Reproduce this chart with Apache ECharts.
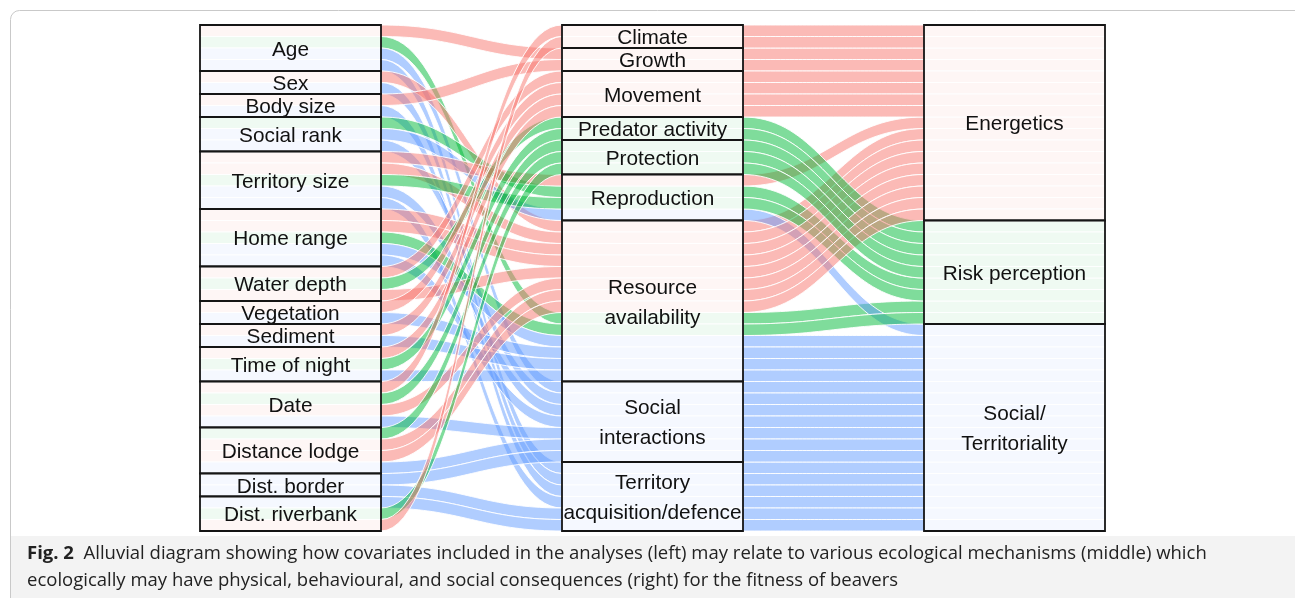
<!DOCTYPE html>
<html><head><meta charset="utf-8">
<script src="https://cdn.jsdelivr.net/npm/echarts@6/dist/echarts.min.js"></script>
<style>html,body{margin:0;padding:0;background:#fff}#c{width:1295px;height:598px}</style>
</head><body><div id="c"></div>
<script>
// ---- data ----
const covariates = ['Age','Sex','Body size','Social rank','Territory size','Home range','Water depth','Vegetation','Sediment','Time of night','Date','Distance lodge','Dist. border','Dist. riverbank'];
const mechanisms = ['Climate','Growth','Movement','Predator activity','Protection','Reproduction','Resource availability','Social interactions','Territory acquisition/defence'];
const consequences = ['Energetics','Risk perception','Social/Territoriality'];
const consequenceColors = ['#F8766D','#00BA38','#619CFF'];
const displayLabels = {
  'Resource availability':'Resource\navailability',
  'Social interactions':'Social\ninteractions',
  'Territory acquisition/defence':'Territory\nacquisition/defence',
  'Social/Territoriality':'Social/\nTerritoriality'
};
// one strand (alluvium) per row: covariate, mechanism, consequence (in stacking order of the left axis)
const strands = [
  ['Age','Growth','Energetics'],
  ['Age','Resource availability','Risk perception'],
  ['Age','Social interactions','Social/Territoriality'],
  ['Age','Territory acquisition/defence','Social/Territoriality'],
  ['Sex','Resource availability','Energetics'],
  ['Sex','Territory acquisition/defence','Social/Territoriality'],
  ['Body size','Growth','Energetics'],
  ['Body size','Territory acquisition/defence','Social/Territoriality'],
  ['Social rank','Reproduction','Risk perception'],
  ['Social rank','Reproduction','Social/Territoriality'],
  ['Social rank','Social interactions','Social/Territoriality'],
  ['Territory size','Reproduction','Energetics'],
  ['Territory size','Resource availability','Energetics'],
  ['Territory size','Reproduction','Risk perception'],
  ['Territory size','Social interactions','Social/Territoriality'],
  ['Territory size','Territory acquisition/defence','Social/Territoriality'],
  ['Home range','Resource availability','Energetics'],
  ['Home range','Resource availability','Energetics'],
  ['Home range','Resource availability','Risk perception'],
  ['Home range','Resource availability','Social/Territoriality'],
  ['Home range','Social interactions','Social/Territoriality'],
  ['Water depth','Movement','Energetics'],
  ['Water depth','Predator activity','Risk perception'],
  ['Water depth','Resource availability','Energetics'],
  ['Vegetation','Movement','Energetics'],
  ['Vegetation','Resource availability','Social/Territoriality'],
  ['Sediment','Movement','Energetics'],
  ['Sediment','Resource availability','Social/Territoriality'],
  ['Time of night','Movement','Energetics'],
  ['Time of night','Predator activity','Risk perception'],
  ['Time of night','Resource availability','Social/Territoriality'],
  ['Date','Climate','Energetics'],
  ['Date','Protection','Risk perception'],
  ['Date','Resource availability','Energetics'],
  ['Date','Social interactions','Social/Territoriality'],
  ['Distance lodge','Protection','Risk perception'],
  ['Distance lodge','Resource availability','Energetics'],
  ['Distance lodge','Resource availability','Energetics'],
  ['Distance lodge','Social interactions','Social/Territoriality'],
  ['Dist. border','Social interactions','Social/Territoriality'],
  ['Dist. border','Territory acquisition/defence','Social/Territoriality'],
  ['Dist. riverbank','Territory acquisition/defence','Social/Territoriality'],
  ['Dist. riverbank','Protection','Risk perception'],
  ['Dist. riverbank','Climate','Energetics']
];
const captionBold = 'Fig. 2';
const captionLine1 = 'Alluvial diagram showing how covariates included in the analyses (left) may relate to various ecological mechanisms (middle) which';
const captionLine2 = 'ecologically may have physical, behavioural, and social consequences (right) for the fitness of beavers';

// ---- stacking (in data units: one strand = 1) ----
const N = strands.length;
const ci = strands.map(s => covariates.indexOf(s[0]));
const mi = strands.map(s => mechanisms.indexOf(s[1]));
const qi = strands.map(s => consequences.indexOf(s[2]));
const idx = strands.map((s,i)=>i);
const leftPos = new Array(N), midPos = new Array(N), rightPos = new Array(N);
idx.slice().sort((a,b)=> ci[a]-ci[b] || a-b).forEach((k,j)=>{leftPos[k]=j;});
idx.slice().sort((a,b)=> mi[a]-mi[b] || qi[a]-qi[b] || leftPos[a]-leftPos[b]).forEach((k,j)=>{midPos[k]=j;});
idx.slice().sort((a,b)=> qi[a]-qi[b] || midPos[a]-midPos[b]).forEach((k,j)=>{rightPos[k]=j;});

function strata(names, keyIdx, pos, col){
  return names.map((n,i)=>{
    const members = idx.filter(k=>keyIdx[k]===i);
    const start = Math.min(...members.map(k=>pos[k]));
    return [col, start, members.length, displayLabels[n] || n];
  });
}
const strataData = [].concat(
  strata(covariates, ci, leftPos, 0),
  strata(mechanisms, mi, midPos, 1),
  strata(consequences, qi, rightPos, 2)
);

const K = 0.45;
function bez(p0,p1,p2,p3,n){
  const pts=[];
  for(let i=0;i<=n;i++){
    const t=i/n, u=1-t;
    pts.push([u*u*u*p0[0]+3*u*u*t*p1[0]+3*u*t*t*p2[0]+t*t*t*p3[0],
              u*u*u*p0[1]+3*u*u*t*p1[1]+3*u*t*t*p2[1]+t*t*t*p3[1]]);
  }
  return pts;
}
function edge(api, a, b, c, off){
  const ys=[a+off,b+off,c+off];
  const P = (x,y)=>api.coord([x,y]);
  let pts=[P(0,ys[0]), P(1,ys[0])];
  pts = pts.concat(bez(P(1,ys[0]),P(1+K,ys[0]),P(2-K,ys[1]),P(2,ys[1]),40).slice(1));
  pts.push(P(3,ys[1]));
  pts = pts.concat(bez(P(3,ys[1]),P(3+K,ys[1]),P(4-K,ys[2]),P(4,ys[2]),40).slice(1));
  pts.push(P(5,ys[2]));
  return pts;
}

const capFont = '"Open Sans", "Noto Sans", sans-serif';
const chart = echarts.init(document.getElementById('c'), null, {renderer:'canvas'});
chart.setOption({
  animation:false,
  grid:{left:200, top:25, width:905, height:506},
  xAxis:{type:'value', min:0, max:5, show:false},
  yAxis:{type:'value', min:0, max:44, inverse:true, show:false},
  graphic:[
    {type:'rect', z:-10, shape:{x:11, y:536, width:1290, height:70}, style:{fill:'#f3f3f3'}},
    {type:'rect', z:-9, shape:{x:10.5, y:10.5, width:1300, height:620, r:9}, style:{fill:'none', stroke:'#c9c9c9', lineWidth:1}},
    {type:'text', left:27, top:544, style:{
      text:'{b|'+captionBold+'}  '+captionLine1, fontSize:18.5, fontFamily:capFont, fill:'#222',
      rich:{b:{fontWeight:'bold', fontSize:18.5, fontFamily:capFont, fill:'#222'}}}},
    {type:'text', left:27, top:571, style:{
      text:captionLine2, fontSize:18.5, fontFamily:capFont, fill:'#222'}}
  ],
  series:[
    {
      type:'custom', coordinateSystem:'cartesian2d', silent:true,
      data: idx.map(i=>[i]),
      renderItem:function(params, api){
        const k = api.value(0);
        const top = edge(api, leftPos[k], midPos[k], rightPos[k], 0);
        const bot = edge(api, leftPos[k], midPos[k], rightPos[k], 1).reverse();
        const col = echarts.color.modifyAlpha(consequenceColors[qi[k]], 0.5);
        return {type:'polygon', shape:{points: top.concat(bot)},
                style:{fill:col, stroke:'#ffffff', lineWidth:0.9}};
      }
    },
    {
      type:'custom', coordinateSystem:'cartesian2d', silent:true,
      data: strataData,
      renderItem:function(params, api){
        const col=api.value(0), start=api.value(1), size=api.value(2);
        const label = strataData[params.dataIndex][3];
        const p0 = api.coord([col*2, start]);
        const p1 = api.coord([col*2+1, start+size]);
        return {type:'group', children:[
          {type:'rect', shape:{x:p0[0], y:p0[1], width:p1[0]-p0[0], height:p1[1]-p0[1]},
           style:{fill:'rgba(255,255,255,0.88)', stroke:'#151515', lineWidth:1.8}},
          {type:'text', style:{text:label, x:(p0[0]+p1[0])/2, y:(p0[1]+p1[1])/2+2, align:'center', verticalAlign:'middle',
            fontSize:20.8, fontFamily:'"Liberation Sans", Arial, sans-serif', fill:'#111', lineHeight:30}}
        ]};
      }
    }
  ]
});
</script></body></html>
